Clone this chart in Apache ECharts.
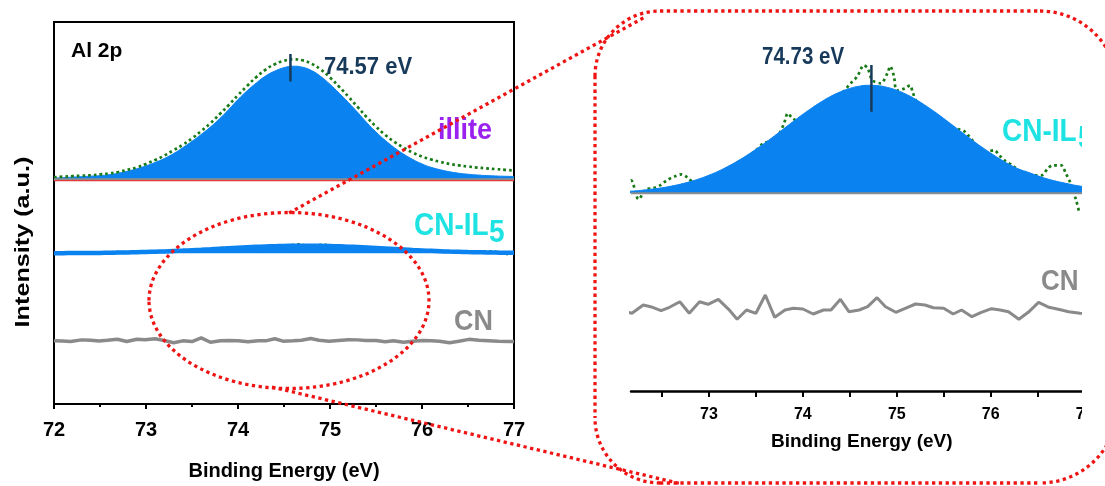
<!DOCTYPE html>
<html><head><meta charset="utf-8">
<script src="https://cdn.jsdelivr.net/npm/echarts@6/dist/echarts.min.js"></script>
<style>html,body{margin:0;padding:0;background:#fff;overflow:hidden}#c{width:1105px;height:486px}</style>
</head><body><div id="c"></div><script>
// ---------- data ----------
const ENERGY = [72.0,72.1,72.2,72.3,72.4,72.5,72.6,72.7,72.8,72.9,73.0,73.1,73.2,73.3,73.4,73.5,73.6,73.7,73.8,73.9,74.0,74.1,74.2,74.3,74.4,74.5,74.6,74.7,74.8,74.9,75.0,75.1,75.2,75.3,75.4,75.5,75.6,75.7,75.8,75.9,76.0,76.1,76.2,76.3,76.4,76.5,76.6,76.7,76.8,76.9,77.0];
const ILLITE_FIT = [1,1.5,2,2.5,3,3.5,4.5,6,8,10.5,13.5,17,21,26,32,38.5,45.5,53,61.5,71,81,90,98,105,110,113.5,115,114,110.5,104.5,96.5,87.5,78,68,57.5,48,39.5,32,25.5,20,15.5,12,9.5,7.5,6,5,4.2,3.6,3.2,2.9,2.7];
const ILLITE_ENVELOPE = [2,2.5,3,3.5,4,4.8,5.8,7.3,9.5,12,15.5,19.5,24,29.5,35,41.5,49,57,66,75.5,85.5,95,104,111.5,117,120.5,122,121,117.5,111.5,103.5,94,84,73.5,63,53.5,45,38,32,27,23,20,17.5,15.5,14,12.8,11.8,11,10.2,9.5,8.8];
const ILLITE_BASE_E = [72, 77];
const ILLITE_BASE = [0, 0];
const ILLITE_RED_BASE = [-1.5, -1.5];
const CNIL5_FIT = [1.2,1.7,2.3,3.1,4.2,5.5,7.2,9.2,11.7,14.6,18.1,22.1,26.8,32.0,37.7,44.0,50.6,57.6,64.8,72.0,79.0,85.6,91.7,97.1,101.5,104.9,107.1,108.0,107.6,105.9,103.0,99.0,94.0,88.1,81.7,74.8,67.7,60.5,53.4,46.6,40.2,34.2,28.8,24.2,21.0,17.5,14.5,12.0,10.0,8.0,6.5];
const CNIL5_RAW_E = [72.02,72.10,72.17,72.25,72.33,72.40,72.48,72.55,72.64,72.71,72.77,72.84,72.93,73.02,73.12,73.22,73.32,73.42,73.50,73.58,73.68,73.75,73.80,73.84,73.89,73.96,74.05,74.14,74.24,74.33,74.42,74.51,74.58,74.65,74.69,74.74,74.83,74.90,74.93,74.97,75.00,75.09,75.14,75.17,75.21,75.30,75.40,75.50,75.59,75.66,75.72,75.77,75.85,75.95,76.04,76.09,76.16,76.23,76.31,76.38,76.45,76.54,76.61,76.66,76.75,76.80,76.85,76.91,76.94];
const CNIL5_RAW = [2,7,13,-6,4,5,8,13,17,19,16,11,12,15,19,24,29,37,43,50,53,60,70,80,75,72,79,85,92,97,101,110,117,128,125,113,110,120,127,117,103,105,108,101,92,86,79,71,65,64,62,57,48,42,43,38,32,28,22,19,18,18,25,28,28,20,10,-7,-18];
const CNIL5_BASE_E = [72.17, 77];
const CNIL5_BASE = [0, 0];
const CN_E = [72.00,72.09,72.18,72.30,72.40,72.49,72.58,72.69,72.79,72.90,72.99,73.10,73.21,73.30,73.40,73.50,73.60,73.70,73.81,73.90,74.00,74.11,74.22,74.30,74.40,74.49,74.60,74.69,74.79,74.88,74.99,75.09,75.20,75.30,75.39,75.50,75.60,75.69,75.80,75.90,76.01,76.10,76.19,76.30,76.40,76.51,76.62,76.72,76.83,76.95,77.00];
const CN_RAW = [1,-1,-3.3,5,2.7,-0.7,2.7,8.3,-3.3,8.3,5.7,10.7,0.7,-9.3,0,-3.3,15,-7.3,0,1.7,1,-4,0,0,10.7,-1.7,0,3.3,12.3,3.3,-2.3,1.7,6,5,2.3,1.7,-4,0,-6.7,-2.3,1.3,0,-1.7,-9.3,-2.3,7.7,2.7,0.7,-1.7,-3.3,-3.5];
const PEAK_ILLITE = 74.57, PEAK_ILLITE_MARK = [99.5, 127.5];
const PEAK_CNIL5 = 74.73, PEAK_CNIL5_MARK = [81.6, 128.3];
const MAIN_TICKS = [72, 73, 74, 75, 76, 77];
const INSET_LABELS = [73, 74, 75, 76, 77];
const INSET_TICKS = [72.5, 73, 73.5, 74, 74.5, 75, 75.5, 76, 76.5, 77];

// ---------- helpers ----------
const zip = (xs, ys) => xs.map((x, i) => [x, ys[i]]);
const FONT = 'Liberation Sans, Arial, sans-serif';
const BLUE = '#0a82f0', GREEN = '#177a17', GRAY = '#8a8a8a', NAVY = '#173a5b', RED = '#ee1414';

const chart = echarts.init(document.getElementById('c'), null, {renderer: 'canvas', width: 1105, height: 486});

function txt(x, y, text, size, color, opt) {
  opt = opt || {};
  return {
    type: 'text', x: x, y: y, z: opt.z || 40,
    rotation: opt.rotation || 0,
    scaleX: opt.sx || 1, scaleY: opt.sy || 1,
    style: {
      text: text, x: 0, y: 0, fill: color,
      font: 'bold ' + size + 'px ' + FONT,
      align: opt.align || 'left', verticalAlign: 'middle'
    }
  };
}
function dot() { return {stroke: RED, lineWidth: 3.3, lineDash: [3.3, 3.5], fill: null}; }

const option = {
  animation: false,
  backgroundColor: '#fff',
  grid: [
    {left: 54, right: 591, top: 22, bottom: 75, show: true, borderColor: '#000', borderWidth: 2, containLabel: false},
    {left: 631, right: 20.4, top: 11, bottom: 95, show: false, containLabel: false}
  ],
  xAxis: [
    {
      gridIndex: 0, type: 'value', min: MAIN_TICKS[0], max: MAIN_TICKS[MAIN_TICKS.length - 1], interval: 1,
      axisLine: {show: true, onZero: false, lineStyle: {color: '#000', width: 2}},
      axisTick: {show: true, inside: false, length: 5, lineStyle: {color: '#000', width: 2}},
      minorTick: {show: true, splitNumber: 2, length: 3, lineStyle: {color: '#000', width: 2}},
      splitLine: {show: false},
      axisLabel: {show: true, margin: 16, color: '#000', fontSize: 20, fontWeight: 'bold', fontFamily: FONT},
      name: 'Binding Energy (eV)', nameLocation: 'middle', nameGap: 57,
      nameTextStyle: {color: '#000', fontSize: 20, fontWeight: 'bold', fontFamily: FONT}
    },
    {
      gridIndex: 1, type: 'value', min: 72.17, max: 77,
      axisLine: {show: true, onZero: false, lineStyle: {color: '#000', width: 2.5}},
      axisTick: {show: true, inside: false, length: 6, customValues: INSET_TICKS, lineStyle: {color: '#000', width: 2}},
      splitLine: {show: false},
      axisLabel: {show: true, margin: 16, customValues: INSET_LABELS, color: '#000', fontSize: 16, fontWeight: 'bold', fontFamily: FONT},
      name: 'Binding Energy (eV)', nameLocation: 'middle', nameGap: 41,
      nameTextStyle: {color: '#000', fontSize: 19, fontWeight: 'bold', fontFamily: FONT, padding: [0, 0, 0, 8]}
    }
  ],
  yAxis: [
    {gridIndex: 0, type: 'value', min: -229, max: 160, show: false, splitLine: {show: false}},
    {gridIndex: 0, type: 'value', min: -2149, max: 3297, show: false, splitLine: {show: false}},
    {gridIndex: 0, type: 'value', min: -321.5, max: 1623.5, show: false, splitLine: {show: false}},
    {gridIndex: 1, type: 'value', min: -197.7, max: 182.3, show: false, splitLine: {show: false}},
    {gridIndex: 1, type: 'value', min: -81, max: 299, show: false, splitLine: {show: false}}
  ],
  series: [
    {name: 'illite envelope', type: 'line', xAxisIndex: 0, yAxisIndex: 0, z: 3, symbol: 'none', smooth: true,
      data: zip(ENERGY, ILLITE_ENVELOPE), lineStyle: {color: GREEN, width: 2.7, type: [2.7, 3]}},
    {name: 'illite fit', type: 'line', xAxisIndex: 0, yAxisIndex: 0, z: 2, symbol: 'none', smooth: true,
      data: zip(ENERGY, ILLITE_FIT), lineStyle: {color: BLUE, width: 1}, areaStyle: {color: BLUE, opacity: 1}},
    {name: 'illite red', type: 'line', xAxisIndex: 0, yAxisIndex: 0, z: 4, symbol: 'none',
      data: zip(ILLITE_BASE_E, ILLITE_RED_BASE), lineStyle: {color: '#e03a3a', width: 1.5}},
    {name: 'illite bg', type: 'line', xAxisIndex: 0, yAxisIndex: 0, z: 4, symbol: 'none',
      data: zip(ILLITE_BASE_E, ILLITE_BASE), lineStyle: {color: '#8c8c8c', width: 1.8}},
    {name: 'illite peak', type: 'line', xAxisIndex: 0, yAxisIndex: 0, z: 5, symbol: 'none',
      data: PEAK_ILLITE_MARK.map(v => [PEAK_ILLITE, v]), lineStyle: {color: NAVY, width: 2.5}},
    {name: 'CN-IL5 raw L', type: 'line', xAxisIndex: 0, yAxisIndex: 1, z: 2, symbol: 'none', smooth: 0.3,
      data: zip(CNIL5_RAW_E, CNIL5_RAW), lineStyle: {color: GREEN, width: 2.5, type: [2.5, 3]}},
    {name: 'CN-IL5 fit L', type: 'line', xAxisIndex: 0, yAxisIndex: 1, z: 3, symbol: 'none', smooth: true,
      data: zip(ENERGY, CNIL5_FIT), lineStyle: {color: BLUE, width: 4.5}, areaStyle: {color: BLUE, opacity: 1}},
    {name: 'CN L', type: 'line', xAxisIndex: 0, yAxisIndex: 2, z: 3, symbol: 'none',
      data: zip(CN_E, CN_RAW), lineStyle: {color: GRAY, width: 3.5}},
    {name: 'CN-IL5 raw', type: 'line', xAxisIndex: 1, yAxisIndex: 3, z: 2, symbol: 'none', smooth: 0.3,
      data: zip(CNIL5_RAW_E, CNIL5_RAW), lineStyle: {color: GREEN, width: 2.7, type: [2.7, 3.2]}},
    {name: 'CN-IL5 fit', type: 'line', xAxisIndex: 1, yAxisIndex: 3, z: 3, symbol: 'none', smooth: true,
      data: zip(ENERGY, CNIL5_FIT), lineStyle: {color: BLUE, width: 1}, areaStyle: {color: BLUE, opacity: 1}},
    {name: 'CN-IL5 bg', type: 'line', xAxisIndex: 1, yAxisIndex: 3, z: 4, symbol: 'none',
      data: zip(CNIL5_BASE_E, CNIL5_BASE), lineStyle: {color: '#8c8c8c', width: 2}},
    {name: 'CN-IL5 peak', type: 'line', xAxisIndex: 1, yAxisIndex: 3, z: 5, symbol: 'none',
      data: PEAK_CNIL5_MARK.map(v => [PEAK_CNIL5, v]), lineStyle: {color: NAVY, width: 2.5}},
    {name: 'CN', type: 'line', xAxisIndex: 1, yAxisIndex: 4, z: 3, symbol: 'none',
      data: zip(CN_E, CN_RAW), lineStyle: {color: GRAY, width: 3}}
  ],
  graphic: [
    txt(71, 51, 'Al 2p', 21, '#000'),
    txt(324, 67, '74.57 eV', 22, NAVY, {sy: 1.12}),
    txt(438, 131, 'illite', 27, '#9b22ee', {sy: 1.12}),
    txt(414, 226, 'CN-IL', 28, '#1fe3e3', {sy: 1.12}),
    txt(489, 233, '5', 28, '#1fe3e3', {sy: 1.12}),
    txt(454, 322, 'CN', 27, GRAY, {sy: 1.12}),
    txt(23, 242, 'Intensity (a.u.)', 21, '#000', {align: 'center', rotation: Math.PI / 2, sx: 1.2}),
    txt(762, 57, '74.73 eV', 20.5, NAVY, {sy: 1.15}),
    txt(1002, 132, 'CN-IL', 28, '#1fe3e3', {sy: 1.12}),
    txt(1078, 139, '5', 28, '#1fe3e3', {sy: 1.12}),
    txt(1041, 282, 'CN', 26, GRAY, {sy: 1.12}),
    {type: 'rect', z: 50, shape: {x: 1082, y: 100, width: 23, height: 328}, style: {fill: '#fff'}},
    {type: 'ellipse', z: 100, shape: {cx: 289, cy: 300.5, rx: 140, ry: 88}, style: dot()},
    {type: 'line', z: 100, shape: {x1: 289, y1: 213, x2: 645, y2: 17}, style: dot()},
    {type: 'line', z: 100, shape: {x1: 272, y1: 387, x2: 682, y2: 484}, style: dot()},
    // rounded inset frame: top edge, left side and corners; right side lies beyond the window
    {type: 'polyline', z: 100, shape: {points: [[660, 11], [1040, 11]]}, style: dot()},
    {type: 'polyline', z: 100, shape: {points: [[660, 483], [1040, 483]]}, style: dot()},
    {type: 'line', z: 100, shape: {x1: 595, y1: 76, x2: 595, y2: 418}, style: dot()},
    {type: 'arc', z: 100, shape: {cx: 660, cy: 76, r: 65, startAngle: Math.PI, endAngle: Math.PI * 1.5}, style: dot()},
    {type: 'arc', z: 100, shape: {cx: 660, cy: 418, r: 65, startAngle: Math.PI * 0.5, endAngle: Math.PI}, style: dot()},
    {type: 'arc', z: 100, shape: {cx: 1040, cy: 89, r: 78, startAngle: Math.PI * 1.5, endAngle: Math.PI * 1.83}, style: dot()},
    {type: 'arc', z: 100, shape: {cx: 1040, cy: 405, r: 78, startAngle: Math.PI * 0.17, endAngle: Math.PI * 0.5}, style: dot()}
  ]
};
chart.setOption(option);
</script></body></html>
